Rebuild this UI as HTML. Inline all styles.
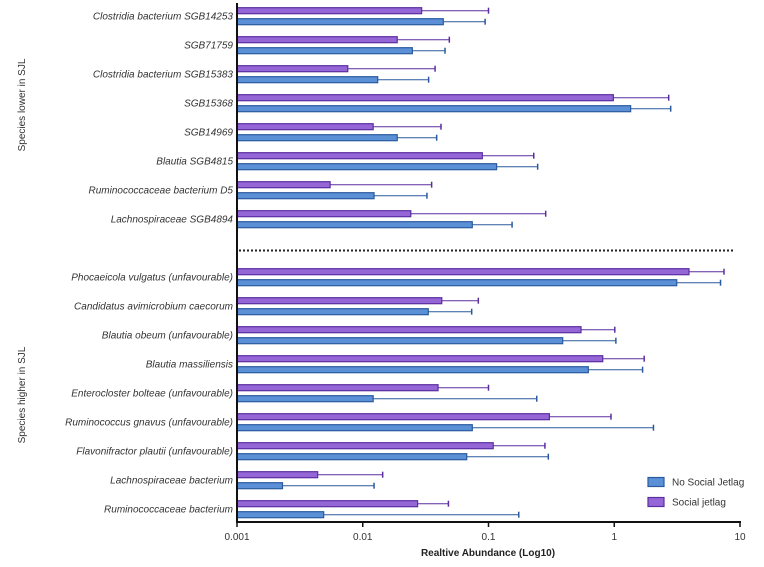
<!DOCTYPE html>
<html><head><meta charset="utf-8"><style>
html,body{margin:0;padding:0;background:#fff;}
svg{display:block;font-family:"Liberation Sans",sans-serif;}
</style></head><body>
<svg id="chart" width="764" height="567" viewBox="0 0 764 567"></svg>
<script>
const categories=["Clostridia bacterium SGB14253","SGB71759","Clostridia bacterium SGB15383","SGB15368","SGB14969","Blautia SGB4815","Ruminococcaceae bacterium D5","Lachnospiraceae SGB4894","Phocaeicola vulgatus (unfavourable)","Candidatus avimicrobium caecorum","Blautia obeum (unfavourable)","Blautia massiliensis","Enterocloster bolteae (unfavourable)","Ruminococcus gnavus (unfavourable)","Flavonifractor plautii (unfavourable)","Lachnospiraceae bacterium","Ruminococcaceae bacterium"];
const sjValues=[0.0294,0.0188,0.0076,0.984,0.0121,0.0893,0.0055,0.0241,3.93,0.0425,0.544,0.81,0.0397,0.305,0.109,0.00438,0.0273];
const sjErrors=[0.1,0.0488,0.0376,2.71,0.0419,0.229,0.0353,0.285,7.46,0.083,1.01,1.73,0.1,0.942,0.281,0.0144,0.048];
const nsjValues=[0.0437,0.0248,0.01315,1.35,0.0188,0.116,0.0123,0.0743,3.14,0.0332,0.389,0.622,0.0121,0.0743,0.0671,0.0023,0.00489];
const nsjErrors=[0.094,0.0451,0.0334,2.81,0.0387,0.246,0.0324,0.154,7.0,0.0735,1.03,1.68,0.242,2.05,0.299,0.0123,0.174];
const tickValues=[0.001,0.01,0.1,1,10];
const tickLabels=["0.001","0.01","0.1","1","10"];

const NS="http://www.w3.org/2000/svg";
const svg=document.getElementById('chart');
const X0=237,PXD=125.75;
function xs(v){return X0+(Math.log10(v)+3)*PXD;}
function slot(i){return i<8?i:i+1;}
function yc(i){return 16.2+29*slot(i);}
function mk(tag,attrs,parent){const e=document.createElementNS(NS,tag);for(const k in attrs)e.setAttribute(k,attrs[k]);(parent||svg).appendChild(e);return e;}

const colors={sj:{fill:"#9566d6",stroke:"#5b2ea0"},nsj:{fill:"#5b8fd6",stroke:"#2a5a9e"}};
function drawBar(i,v,err,y,c,nm){
  const bar=mk('rect',{x:X0,y:y-3,width:xs(v)-X0,height:6,fill:c.fill,stroke:c.stroke,'stroke-width':1.2});
  
  
  const eb=mk('line',{x1:xs(v),x2:xs(err),y1:y,y2:y,stroke:c.stroke,'stroke-width':1});
  
  
  const cap=mk('line',{x1:xs(err),x2:xs(err),y1:y-3,y2:y+3,stroke:c.stroke,'stroke-width':1.5});
  
  
}
categories.forEach((c,i)=>{
  const y=yc(i);
  drawBar(i,sjValues[i],sjErrors[i],y-5.5,colors.sj,'social-jetlag');
  drawBar(i,nsjValues[i],nsjErrors[i],y+5.5,colors.nsj,'no-social-jetlag');
  const t=mk('text',{x:233,y:y+3.5,'text-anchor':'end','font-size':10,'font-style':'italic',fill:'#333'});
  t.textContent=c;
  
  
});
// divider
const dv=mk('line',{x1:239,x2:735,y1:250.5,y2:250.5,stroke:'#222','stroke-width':2,'stroke-dasharray':'2,2'});


// axes
const ya=mk('line',{x1:X0,x2:X0,y1:3,y2:522,stroke:'#111','stroke-width':2});


const xa=mk('line',{x1:X0-1,x2:xs(10)+1,y1:522,y2:522,stroke:'#111','stroke-width':2});


tickValues.forEach((v,i)=>{
  const tk=mk('line',{x1:xs(v),x2:xs(v),y1:522,y2:527,stroke:'#111','stroke-width':1.5});
  
  
  const tl=mk('text',{x:xs(v),y:540,'text-anchor':'middle','font-size':10,fill:'#333'});
  tl.textContent=tickLabels[i];
  
  
});
const xt=mk('text',{x:488,y:556,'text-anchor':'middle','font-size':10,'font-weight':'bold',fill:'#222'});
xt.textContent="Realtive Abundance (Log10)";


[["Species lower in SJL",105,'group-title-lower'],["Species higher in SJL",395,'group-title-higher']].forEach(g=>{
  const t=mk('text',{x:0,y:0,transform:`translate(25,${g[1]}) rotate(-90)`,'text-anchor':'middle','font-size':10,fill:'#333'});
  t.textContent=g[0];
  
  
});
// legend
[["No Social Jetlag",482,colors.nsj,'legend-no-social-jetlag'],["Social jetlag",502,colors.sj,'legend-social-jetlag']].forEach(l=>{
  const g=mk('g',{});
  
  
  mk('rect',{x:648,y:l[1]-4.5,width:16,height:9,fill:l[2].fill,stroke:l[2].stroke,'stroke-width':1.2},g);
  const t=mk('text',{x:672,y:l[1]+3.5,'font-size':10,fill:'#333'},g);
  t.textContent=l[0];
});
</script>
</body></html>
